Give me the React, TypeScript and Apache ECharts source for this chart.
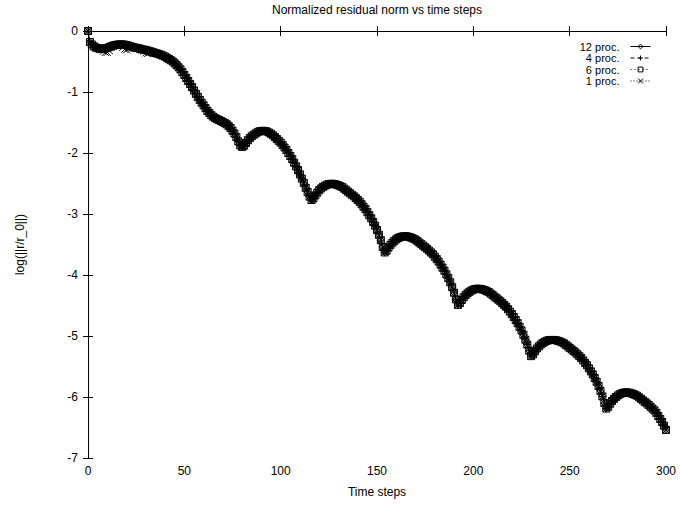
import React, { useEffect, useRef } from "react";
import * as echarts from "echarts";

// Normalized residual norm (log) at every time step t = 0..300
const residual12: number[] = [
  0, -0.18, -0.22, -0.25, -0.27, -0.28, -0.29, -0.29, -0.29, -0.285,
  -0.28, -0.265, -0.25, -0.24, -0.23, -0.225, -0.22, -0.22, -0.22, -0.225,
  -0.23, -0.24, -0.25, -0.26, -0.27, -0.275, -0.28, -0.29, -0.3, -0.305,
  -0.31, -0.32, -0.33, -0.34, -0.35, -0.36, -0.37, -0.38, -0.39, -0.405,
  -0.42, -0.44, -0.46, -0.48, -0.5, -0.53, -0.56, -0.595, -0.63, -0.675,
  -0.72, -0.77, -0.82, -0.87, -0.92, -0.975, -1.03, -1.08, -1.13, -1.175,
  -1.22, -1.265, -1.31, -1.345, -1.38, -1.405, -1.43, -1.445, -1.46, -1.475,
  -1.49, -1.51, -1.53, -1.56, -1.59, -1.635, -1.68, -1.74, -1.81, -1.875,
  -1.9,
  -1.88, -1.835, -1.79, -1.755, -1.725, -1.7, -1.68, -1.66, -1.645, -1.64,
  -1.635, -1.64, -1.65, -1.665, -1.685, -1.71, -1.74, -1.77, -1.8, -1.83,
  -1.87, -1.91, -1.95, -2.0, -2.05, -2.1, -2.16, -2.22, -2.28, -2.35,
  -2.42, -2.49, -2.57, -2.64, -2.715, -2.77,
  -2.745, -2.695, -2.65, -2.61, -2.58, -2.555, -2.535, -2.52, -2.51, -2.505,
  -2.505, -2.51, -2.52, -2.53, -2.545, -2.56, -2.585, -2.61, -2.635, -2.66,
  -2.685, -2.71, -2.74, -2.77, -2.8, -2.84, -2.88, -2.92, -2.97, -3.02,
  -3.07, -3.13, -3.19, -3.26, -3.34, -3.43, -3.54, -3.63,
  -3.6, -3.55, -3.505, -3.47, -3.44, -3.415, -3.395, -3.38, -3.37, -3.365,
  -3.365, -3.37, -3.38, -3.39, -3.405, -3.42, -3.445, -3.47, -3.495, -3.52,
  -3.545, -3.57, -3.6, -3.63, -3.66, -3.7, -3.74, -3.78, -3.83, -3.88,
  -3.93, -3.99, -4.05, -4.12, -4.2, -4.29, -4.4, -4.49,
  -4.46, -4.41, -4.365, -4.33, -4.3, -4.275, -4.255, -4.24, -4.23, -4.225,
  -4.225, -4.23, -4.24, -4.25, -4.265, -4.28, -4.305, -4.33, -4.355, -4.38,
  -4.405, -4.43, -4.46, -4.49, -4.52, -4.56, -4.6, -4.64, -4.69, -4.74,
  -4.79, -4.85, -4.91, -4.98, -5.06, -5.14, -5.24, -5.33,
  -5.3, -5.25, -5.205, -5.17, -5.14, -5.115, -5.095, -5.08, -5.07, -5.065,
  -5.065, -5.065, -5.07, -5.08, -5.09, -5.105, -5.12, -5.145, -5.17, -5.195,
  -5.22, -5.245, -5.27, -5.3, -5.33, -5.36, -5.4, -5.44, -5.48, -5.53,
  -5.58, -5.63, -5.69, -5.75, -5.82, -5.9, -5.99, -6.1, -6.19,
  -6.16, -6.11, -6.065, -6.03, -6.0, -5.975, -5.955, -5.94, -5.93, -5.925,
  -5.925, -5.93, -5.94, -5.95, -5.965, -5.98, -6.005, -6.03, -6.055, -6.08,
  -6.105, -6.13, -6.16, -6.19, -6.22, -6.26, -6.31, -6.36, -6.41, -6.47,
  -6.54,
];

// 1 proc. differs slightly in the first 41 steps
const residual1Early: number[] = [
  0, -0.19, -0.23, -0.26, -0.28, -0.29, -0.3, -0.31, -0.33, -0.35,
  -0.35, -0.32, -0.27, -0.25, -0.24, -0.23, -0.23, -0.24, -0.27, -0.3,
  -0.31, -0.28, -0.26, -0.27, -0.28, -0.285, -0.29, -0.3, -0.31, -0.33,
  -0.36, -0.37, -0.35, -0.345, -0.355, -0.365, -0.375, -0.385, -0.395, -0.41,
  -0.42,
];

const residual4: number[] = residual12;
const residual6: number[] = residual12;
const residual1: number[] = residual1Early.concat(residual12.slice(residual1Early.length));

const seriesNames = ["12 proc.", "4 proc.", "6 proc.", "1 proc."];
const xTicks = { min: 0, max: 300, interval: 50 };
const yTicks = { min: -7, max: 0, interval: 1 };

const FONT = "Liberation Sans, Arial, Helvetica, sans-serif";

const symDiamond = "path://M0,-1L1,0L0,1L-1,0Z";
const symPlus = "path://M-1,0L1,0M0,-1L0,1";
const symSquare = "path://M-1,-1L1,-1L1,1L-1,1Z";
const symCross = "path://M-1,-1L1,1M1,-1L-1,1";

function toPairs(vals: number[]): [number, number][] {
  return vals.map((v, i) => [i, v]);
}

export default function App() {
  const ref = useRef<HTMLDivElement>(null);
  useEffect(() => {
    if (!ref.current) return;
    const chart = echarts.init(ref.current, null, { renderer: "svg" });
    const datasets = [residual12, residual4, residual6, residual1];
    const symbols = [symDiamond, symPlus, symSquare, symCross];
    const lineTypes: any[] = ["solid", [4, 3], [1, 3], [1, 2]];
    const axisCommon = {
      type: "value",
      axisLine: { show: true, lineStyle: { color: "#000", width: 1 } },
      axisTick: { show: true, inside: true, length: 5, lineStyle: { color: "#000" } },
      splitLine: { show: false },
      axisLabel: { color: "#000", fontSize: 12, fontFamily: FONT },
    };
    chart.setOption({
      animation: false,
      backgroundColor: "#fff",
      grid: { left: 88, right: 14, top: 31, bottom: 48, containLabel: false },
      graphic: [
        {
          type: "text",
          x: 377,
          y: 10,
          style: {
            text: "Normalized residual norm vs time steps",
            fill: "#000",
            font: `12px ${FONT}`,
            align: "center",
            verticalAlign: "middle",
          },
        },
      ],
      legend: {
        data: seriesNames,
        orient: "vertical",
        align: "right",
        right: 29,
        top: 41,
        itemWidth: 20,
        itemHeight: 6,
        itemGap: 0.5,
        padding: 0,
        itemStyle: { color: "none", borderColor: "#000", borderWidth: 1 },
        lineStyle: { width: 1, color: "#000" },
        textStyle: {
          color: "#000",
          fontSize: 11,
          fontFamily: FONT,
          padding: [0, 6, 0, 0],
        },
        selectedMode: false,
      },
      xAxis: [
        {
          ...axisCommon,
          ...xTicks,
          position: "bottom",
          axisLabel: { ...axisCommon.axisLabel, margin: 7 },
          name: "Time steps",
          nameLocation: "middle",
          nameGap: 28,
          nameTextStyle: { color: "#000", fontSize: 12, fontFamily: FONT },
        },
        {
          ...axisCommon,
          ...xTicks,
          position: "top",
          axisLabel: { show: false },
        },
      ],
      yAxis: [
        {
          ...axisCommon,
          ...yTicks,
          position: "left",
          axisLabel: { ...axisCommon.axisLabel, margin: 10 },
          name: "log(||r/r_0||)",
          nameLocation: "middle",
          nameGap: 62,
          nameRotate: 90,
          nameTextStyle: { color: "#000", fontSize: 12, fontFamily: FONT },
        },
        {
          ...axisCommon,
          ...yTicks,
          position: "right",
          axisLabel: { show: false },
        },
      ],
      series: seriesNames.map((name, k) => ({
        name,
        type: "line",
        xAxisIndex: 0,
        yAxisIndex: 0,
        data: toPairs(datasets[k]),
        symbol: symbols[k],
        symbolSize: 7,
        showSymbol: true,
        silent: true,
        lineStyle: { color: "#000", width: 1, type: lineTypes[k] },
        itemStyle: { color: "none", borderColor: "#000", borderWidth: 1 },
        emphasis: { disabled: true },
        z: 2 + k,
      })),
    });
    return () => chart.dispose();
  }, []);
  return (
    <div
      ref={ref}
      style={{ position: "fixed", left: 0, top: 0, width: 680, height: 506, background: "#fff" }}
    />
  );
}
